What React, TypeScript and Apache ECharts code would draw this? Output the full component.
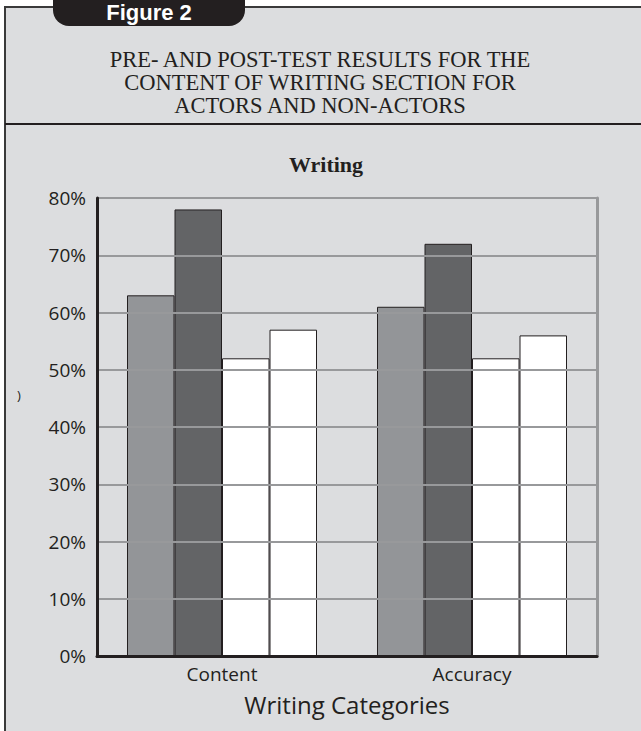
import React, { useEffect, useRef } from "react";
import * as echarts from "echarts";

const categories = ["Content", "Accuracy"];
const seriesNames = ["Actors Pre-test", "Actors Post-test", "Non-actors Pre-test", "Non-actors Post-test"];
const actorsPre = [63, 61];
const actorsPost = [78, 72];
const nonActorsPre = [52, 52];
const nonActorsPost = [57, 56];
const yTicks = { min: 0, max: 80, interval: 10 };
const titleLines = [
  "PRE- AND POST-TEST RESULTS FOR THE",
  "CONTENT OF WRITING SECTION FOR",
  "ACTORS AND NON-ACTORS",
];
const chartTitle = "Writing";
const figureLabel = "Figure 2";
const xAxisName = "Writing Categories";

const barColors = ["#939598", "#636466", "#ffffff", "#ffffff"];
const sans = "'Open Sans', 'Noto Sans', sans-serif";
const serif = "'Liberation Serif', 'DejaVu Serif', serif";

export default function App() {
  const ref = useRef<HTMLDivElement>(null);
  useEffect(() => {
    if (!ref.current) return;
    const chart = echarts.init(ref.current, undefined, { renderer: "svg" });
    const values = [actorsPre, actorsPost, nonActorsPre, nonActorsPost];
    chart.setOption({
      animation: false,
      backgroundColor: "#ffffff",
      grid: { left: 97, top: 198, width: 500, height: 458, containLabel: false },
      xAxis: {
        type: "category",
        data: categories,
        axisLine: { show: true, lineStyle: { color: "#231f20", width: 3 } },
        axisTick: { show: false },
        axisLabel: { fontFamily: sans, fontSize: 19, color: "#231f20", margin: 8 },
        name: xAxisName,
        nameLocation: "middle",
        nameGap: 36,
        nameTextStyle: { fontFamily: sans, fontSize: 24, color: "#231f20" },
        z: 5,
      },
      yAxis: [
        {
          type: "value",
          min: yTicks.min,
          max: yTicks.max,
          interval: yTicks.interval,
          axisLine: { show: true, lineStyle: { color: "#231f20", width: 3 } },
          axisTick: { show: false },
          axisLabel: { formatter: "{value}%", fontFamily: sans, fontSize: 19, color: "#231f20", margin: 11 },
          splitLine: { show: true, lineStyle: { color: "#98999b", width: 2 } },
          z: 5,
        },
        {
          type: "value",
          position: "right",
          min: yTicks.min,
          max: yTicks.max,
          interval: yTicks.interval,
          axisLine: { show: true, lineStyle: { color: "#98999b", width: 3 } },
          axisTick: { show: false },
          axisLabel: { show: false },
          splitLine: { show: false },
        },
      ],
      series: seriesNames.map((name, i) => ({
        name,
        type: "bar",
        data: values[i],
        barGap: "0%",
        barCategoryGap: "24%",
        itemStyle: { color: barColors[i], borderColor: "#231f20", borderWidth: 1 },
      })),
      graphic: [
        {
          type: "rect",
          z: -10,
          silent: true,
          shape: { x: 5, y: 7, width: 640, height: 730 },
          style: { fill: "#dcdddf", stroke: "#3a3a3a", lineWidth: 2 },
        },
        {
          type: "rect",
          z: -5,
          silent: true,
          shape: { x: 53, y: -30, width: 192, height: 56, r: 16 },
          style: { fill: "#231f20" },
        },
        {
          type: "text",
          silent: true,
          x: 149,
          y: 12,
          style: {
            text: figureLabel,
            fill: "#ffffff",
            font: "bold 22px 'Liberation Sans', Arial, sans-serif",
            textAlign: "center",
            textVerticalAlign: "middle",
          },
        },
        ...titleLines.map((t, i) => ({
          type: "text",
          silent: true,
          x: 320,
          y: 59 + i * 23,
          style: {
            text: t,
            fill: "#231f20",
            font: `22.5px ${serif}`,
            textAlign: "center",
            textVerticalAlign: "middle",
          },
        })),
        {
          type: "line",
          silent: true,
          shape: { x1: 5, y1: 124, x2: 641, y2: 124 },
          style: { stroke: "#231f20", lineWidth: 2 },
        },
        {
          type: "text",
          silent: true,
          x: 326,
          y: 164,
          style: {
            text: chartTitle,
            fill: "#231f20",
            font: `bold 22px ${serif}`,
            textAlign: "center",
            textVerticalAlign: "middle",
          },
        },
        {
          type: "text",
          silent: true,
          x: 19,
          y: 395,
          style: {
            text: ")",
            fill: "#231f20",
            font: `13px ${sans}`,
            textAlign: "center",
            textVerticalAlign: "middle",
          },
        },
      ],
    });
    return () => chart.dispose();
  }, []);
  return (
    <div
      ref={ref}
      style={{ position: "fixed", left: 0, top: 0, width: 641, height: 731 }}
    />
  );
}
